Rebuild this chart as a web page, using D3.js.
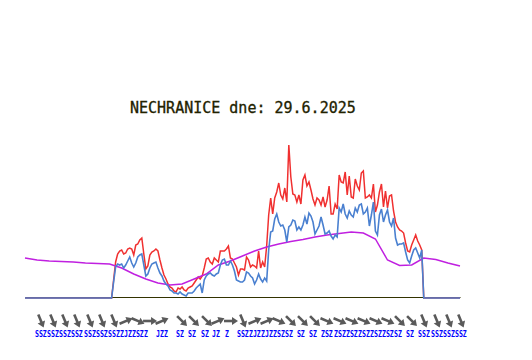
<!DOCTYPE html>
<html>
<head>
<meta charset="utf-8">
<script src="https://d3js.org/d3.v7.min.js"></script>
<style>
body { margin: 0; background: #fff; }
</style>
</head>
<body>
<script>
let width = 532;
let height = 360;

let title = "NECHRANICE dne: 29.6.2025";

// samples every 10 minutes, 36 hours in total
let maxValues = [
  0,0,0,0,0,0,0,0,0,0,0,0,0,0,0,0,0,0,0,0,0,0,
  0,0,0,0,0,0,0,0,0,0,0,0,0,0,0,0,0,0,0,0,0,0,
  18,36,44,47,48,44,45,49,50,49,43,53,54,58,60,44,29,32,43,46,47,49,47,38,30,23,19,14,11,10,7,6,10,9,11,8,7,10,
  11,12,15,18,21,19,22,30,39,40,36,34,40,38,36,47,47,47,49,52,40,39,35,31,23,29,29,28,41,38,31,33,32,30,47,30,36,31,52,83,
  100,84,100,106,115,103,99,110,96,153,121,104,103,96,103,94,118,123,112,116,108,99,93,100,98,93,101,91,98,112,84,84,94,89,123,116,
  115,126,103,122,101,100,119,112,108,125,127,100,101,103,100,114,86,93,106,114,91,107,90,102,103,87,76,71,68,67,65,55,47,46,53,58,63,57,53,48,
  0,0,0,0,0,0,0,0,0,0,0,0,0,0,0,0,0,0,0
];
let avgValues = [
  0,0,0,0,0,0,0,0,0,0,0,0,0,0,0,0,0,0,0,0,0,0,
  0,0,0,0,0,0,0,0,0,0,0,0,0,0,0,0,0,0,0,0,0,0,
  16,31,34,33,34,30,33,37,41,35,31,35,41,43,44,33,22,24,30,34,35,36,30,25,22,17,14,12,8,7,5,5,4,6,4,3,2,5,
  5,5,7,10,12,14,5,18,22,24,25,23,22,24,25,33,38,39,33,33,37,33,27,18,17,16,16,18,26,25,22,20,14,18,24,19,16,20,17,48,
  66,67,79,84,76,72,73,68,56,71,73,78,77,68,71,68,73,81,74,85,82,76,64,68,72,81,73,64,65,67,62,59,63,61,90,86,
  94,84,80,87,83,81,90,86,93,94,84,86,90,72,83,96,67,63,83,89,76,83,88,76,72,80,60,53,54,54,55,46,38,35,42,48,50,45,40,48,
  0,0,0,0,0,0,0,0,0,0,0,0,0,0,0,0,0,0,0
];
// one value per hour
let smoothValues = [40,38,37,36.5,36,35,34.5,34,30,24,19,15,13,14,19,24,33,37,42,47,51,54,56.5,58.5,61,63,64.5,66,65,59,38,32.5,33,40,38.5,35,32];

let windHours = [1.32,2.32,3.31,4.30,5.38,6.37,7.37,8.36,9.35,10.35,11.34,13.0,13.99,15.06,15.97,17.05,18.04,19.03,20.03,21.02,22.01,23.0,24.0,24.99,26.07,27.06,28.06,29.05,30.04,31.03,32.03,33.02,34.1,35.09,36.08];
let windFrom = [337.5,337.5,337.5,337.5,337.5,337.5,337.5,247.5,292.5,270,247.5,315,315,315,247.5,270,337.5,247.5,247.5,292.5,315,315,315,292.5,292.5,292.5,292.5,292.5,292.5,315,315,337.5,337.5,337.5,337.5];
let windLabels = ["SSZ","SSZ","SSZ","SSZ","SSZ","SSZ","SSZ","ZJZ","ZSZ","Z","JZZ","SZ","SZ","SZ","JZ","Z","SSZ","ZJZ","ZJZ","ZSZ","SZ","SZ","SZ","ZSZ","ZSZ","ZSZ","ZSZ","ZSZ","ZSZ","SZ","SZ","SSZ","SSZ","SSZ","SSZ"];

let svg = d3.select("body").append("svg").attr("width", width).attr("height", height).style("display", "block");

let xScale = d3.scaleLinear().domain([0, 36]).range([25, 460]);
let yScale = d3.scaleLinear().domain([0, 160]).range([298, 138]);

svg.append("text")
    .attr("x", 130)
    .attr("y", 113)
    .attr("font-family", "DejaVu Sans Mono")
    .attr("font-size", 15)
    .attr("fill", "#222200")
    .attr("stroke", "#222200")
    .attr("stroke-width", 0.3)
    .text(title);

let xAxis = d3.axisBottom(xScale).tickValues([]).tickSize(0).tickSizeOuter(0);
let axisGroup = svg.append("g").attr("transform", "translate(0,297)").call(xAxis);
axisGroup.select(".domain").attr("stroke", "#333300").attr("stroke-width", 1.2);

let sampleLine = d3.line()
    .x(function(d, i){ return xScale(i / 6); })
    .y(function(d){ return yScale(d); });
let hourLine = d3.line()
    .x(function(d, i){ return xScale(i); })
    .y(function(d){ return yScale(d); });

svg.append("path").attr("d", sampleLine(maxValues))
    .attr("fill", "none").attr("stroke", "#f03030").attr("stroke-width", 1.5);
svg.append("path").attr("d", hourLine(smoothValues))
    .attr("fill", "none").attr("stroke", "#c020e0").attr("stroke-width", 1.5);
svg.append("path").attr("d", sampleLine(avgValues))
    .attr("fill", "none").attr("stroke", "#4a80d0").attr("stroke-width", 1.6);

let arrows = svg.selectAll(".arrow").data(windHours).enter().append("g")
    .attr("class", "arrow")
    .attr("transform", function(d, i){
        return "translate(" + xScale(d) + ",321) rotate(" + (windFrom[i] - 270) + ")";
    });
arrows.append("line")
    .attr("x1", -7).attr("x2", 3).attr("y1", 0).attr("y2", 0)
    .attr("stroke", "#5a5a5a").attr("stroke-width", 2.6);
arrows.append("path")
    .attr("d", "M1,-4L7,0L1,4Z")
    .attr("fill", "#5a5a5a");

// labels squeezed to the 4px per letter they have in the picture
svg.selectAll(".wind").data(windLabels).enter().append("text")
    .attr("class", "wind")
    .attr("x", function(d, i){ return xScale(windHours[i]) - 6; })
    .attr("y", 337)
    .attr("font-family", "DejaVu Sans Mono")
    .attr("font-size", 8)
    .attr("font-weight", "bold")
    .attr("fill", "#0000ff")
    .attr("textLength", function(d){ return d.length * 3.95; })
    .attr("lengthAdjust", "spacingAndGlyphs")
    .text(function(d){ return d; });
</script>
</body>
</html>
